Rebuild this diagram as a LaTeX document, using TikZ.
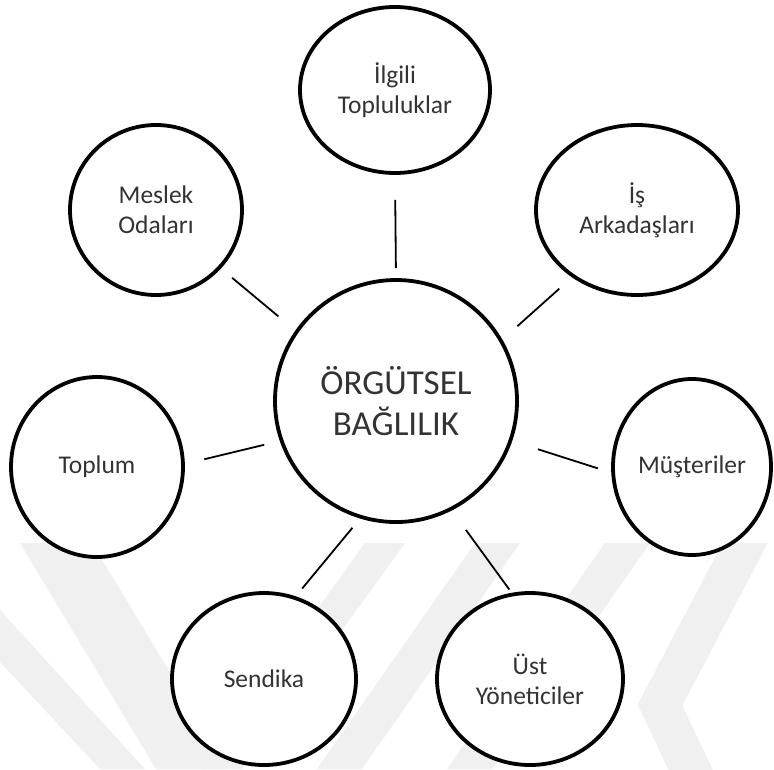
\documentclass[tikz,border=0pt]{standalone}
\usepackage{fontspec}
\setmainfont{Carlito}
\usetikzlibrary{shapes.geometric}
\begin{document}
\begin{tikzpicture}[x=1pt,y=-1pt,
  bub/.style={draw=black, fill=white, line width=3.8pt, ellipse, inner sep=0pt,
    align=center, text=black!80, font=\fontsize{25.5}{30}\selectfont},
  conn/.style={draw=black, line width=1.8pt},
  wm/.style={fill=black!6, draw=none},
  wmline/.style={draw=black!6, line width=40pt, miter limit=10}]
\useasboundingbox (0,0) rectangle (774,769);
\fill[white] (0,0) rectangle (774,769);
% faint watermark
\begin{scope}
\clip (0,543) rectangle (774,769);
\fill[wm] (20,543) -- (92,543) -- (228,769) -- (156,769) -- cycle;
\fill[wm] (365,543) -- (405,543) -- (242,769) -- (202,769) -- cycle;
\fill[wm] (0,610) -- (145,769) -- (100,769) -- (0,662) -- cycle;
\fill[wm] (475,543) -- (520,543) -- (362,769) -- (317,769) -- cycle;
\fill[wm] (605,543) -- (650,543) -- (492,769) -- (447,769) -- cycle;
\draw[wmline] (752,530) -- (660,705) -- (700,790);
\end{scope}
% nodes
\node[bub, minimum width=242pt, minimum height=242pt, font=\fontsize{35}{41}\selectfont] (main) at (396,401) {ÖRGÜTSEL\\BAĞLILIK};
\node[bub, minimum width=190pt, minimum height=166pt] (top) at (395,90) {İlgili\\Topluluklar};
\node[bub, minimum width=172pt, minimum height=170pt] (mes) at (156,210) {Meslek\\Odaları};
\node[bub, minimum width=202pt, minimum height=170pt] (is) at (637,210) {İş\\Arkadaşları};
\node[bub, minimum width=172pt, minimum height=180pt] (toplum) at (97,467) {Toplum};
\node[bub, minimum width=158pt, minimum height=176pt] (mus) at (692,467) {Müşteriler};
\node[bub, minimum width=184pt, minimum height=172pt] (sen) at (264,679) {Sendika};
\node[bub, minimum width=186pt, minimum height=172pt] (ust) at (530,679) {Üst\\Yöneticiler};
% connectors
\draw[conn, shorten <=10pt, shorten >=25pt] (main.90) -- (top.270);
\draw[conn, shorten <=22pt, shorten >=14.5pt] (main.145) -- (mes.318);
\draw[conn, shorten <=20pt, shorten >=17pt] (main.30) -- (is.226);
\draw[conn, shorten <=16pt, shorten >=20pt] (main.199) -- (toplum.2);
\draw[conn, shorten <=27pt, shorten >=14pt] (main.341) -- (mus.184);
\draw[conn, shorten <=12pt, shorten >=10pt] (main.253) -- (sen.69);
\draw[conn, shorten <=24pt, shorten >=4pt] (main.297) -- (ust.102);
\end{tikzpicture}
\end{document}
